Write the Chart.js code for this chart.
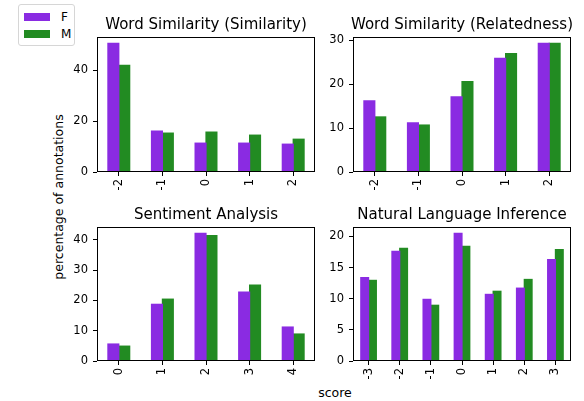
<!DOCTYPE html>
<html><head><meta charset="utf-8">
<script src="https://cdn.jsdelivr.net/npm/chart.js@4.4.1/dist/chart.umd.min.js"></script>
<style>
html,body{margin:0;padding:0;background:#fff;}
body{width:584px;height:401px;position:relative;overflow:hidden;font-family:"DejaVu Sans",sans-serif;color:#000;}
canvas{position:absolute;}
#legend{position:absolute;left:18px;top:4px;width:57px;height:42px;border:1px solid #d6d6d6;border-radius:3px;background:#fff;box-sizing:border-box;}
.lrow{position:absolute;left:5px;height:12px;font-size:12px;line-height:12px;}
.lbox{position:absolute;left:0;top:2px;width:26px;height:8px;}
.ltxt{position:absolute;left:37px;top:0;}
#ylabel{position:absolute;left:58px;top:197px;transform:translate(-50%,-50%) rotate(-90deg);white-space:nowrap;font-size:12.5px;}
#xlabel{position:absolute;left:335px;top:392px;transform:translate(-50%,-50%);white-space:nowrap;font-size:12.5px;}
</style></head><body>
<div id="legend"></div>
<div id="ylabel">percentage of annotations</div>
<div id="xlabel">score</div>
<canvas id="c1"></canvas>
<canvas id="c2"></canvas>
<canvas id="c3"></canvas>
<canvas id="c4"></canvas>
<script>
// ---- data ----
const seriesNames = ['F', 'M'];
const seriesColors = ['#8A2BE2', '#228B22'];

const simTitle = 'Word Similarity (Similarity)';
const simCats = ['-2', '-1', '0', '1', '2'];
const simF = [50.6, 16.1, 11.35, 11.35, 10.95];
const simM = [42.0, 15.3, 15.7, 14.5, 12.9];
const simTicks = [0, 20, 40];

const relTitle = 'Word Similarity (Relatedness)';
const relCats = ['-2', '-1', '0', '1', '2'];
const relF = [16.2, 11.2, 17.1, 25.9, 29.3];
const relM = [12.55, 10.7, 20.6, 27.0, 29.3];
const relTicks = [0, 10, 20, 30];

const senTitle = 'Sentiment Analysis';
const senCats = ['0', '1', '2', '3', '4'];
const senF = [5.6, 18.7, 42.1, 22.7, 11.2];
const senM = [4.9, 20.4, 41.4, 25.0, 8.9];
const senTicks = [0, 10, 20, 30, 40];

const nliTitle = 'Natural Language Inference';
const nliCats = ['-3', '-2', '-1', '0', '1', '2', '3'];
const nliF = [13.4, 17.6, 9.9, 20.5, 10.7, 11.7, 16.3];
const nliM = [12.95, 18.1, 8.95, 18.4, 11.2, 13.1, 17.9];
const nliTicks = [0, 5, 10, 15, 20];

// ---- layout ----
const FONT = 'DejaVu Sans';
const Y_W = 44, X_H = 30, TOP_H = 27, PAD_R = 8;

// legend (HTML, built from series arrays)
const leg = document.getElementById('legend');
seriesNames.forEach((n, i) => {
  const r = document.createElement('div');
  r.className = 'lrow';
  r.style.top = (6 + i * 17) + 'px';
  r.innerHTML = '<div class="lbox" style="background:' + seriesColors[i] + '"></div><div class="ltxt">' + n + '</div>';
  r.style.width = '50px';
  leg.appendChild(r);
});

const framePlugin = {
  id: 'frame',
  afterDraw(chart) {
    const a = chart.chartArea, ctx = chart.ctx;
    ctx.save();
    ctx.strokeStyle = '#000';
    ctx.lineWidth = 1;
    const l = Math.round(a.left) + 0.5, t = Math.round(a.top) + 0.5;
    const r = Math.round(a.right) - 0.5, b = Math.round(a.bottom) - 0.5;
    ctx.strokeRect(l, t, r - l, b - t);
    const txt = chart.options.plugins.axTitle.text;
    ctx.fillStyle = '#000';
    ctx.font = '15px "' + FONT + '"';
    ctx.textAlign = 'center';
    ctx.textBaseline = 'alphabetic';
    ctx.fillText(txt, (a.left + a.right) / 2, a.top - 8);
    ctx.restore();
  }
};

function makeChart(id, box, title, cats, f, m, ticks) {
  const cv = document.getElementById(id);
  const w = (box.r - box.l) + Y_W + PAD_R;
  const h = TOP_H + (box.b - box.t) + X_H;
  cv.width = w; cv.height = h;
  cv.style.left = (box.l - Y_W) + 'px';
  cv.style.top = (box.t - TOP_H) + 'px';
  cv.style.width = w + 'px'; cv.style.height = h + 'px';
  const vmax = Math.max(...f, ...m) * 1.05;
  return new Chart(cv, {
    type: 'bar',
    data: {
      labels: cats,
      datasets: [
        { label: seriesNames[0], data: f, backgroundColor: seriesColors[0], borderWidth: 0, inflateAmount: 0.6 },
        { label: seriesNames[1], data: m, backgroundColor: seriesColors[1], borderWidth: 0, inflateAmount: 0.6 }
      ]
    },
    options: {
      responsive: false,
      animation: false,
      devicePixelRatio: 1,
      layout: { padding: { top: TOP_H, right: PAD_R, left: 0, bottom: 0 } },
      categoryPercentage: 0.5,
      barPercentage: 1.0,
      plugins: {
        legend: { display: false },
        title: { display: false },
        tooltip: { enabled: false },
        axTitle: { text: title }
      },
      scales: {
        x: {
          offset: true,
          border: { display: false },
          grid: { display: true, offset: false, drawOnChartArea: false, drawTicks: true, tickLength: 4, color: '#000', lineWidth: 1 },
          ticks: { autoSkip: false, minRotation: 90, maxRotation: 90, padding: 3, color: '#000', font: { family: FONT, size: 11.5 } },
          afterFit(s) { s.height = X_H; }
        },
        y: {
          min: 0, max: vmax,
          border: { display: false },
          grid: { display: true, drawOnChartArea: false, drawTicks: true, tickLength: 4, color: '#000', lineWidth: 1 },
          ticks: { padding: 5, color: '#000', font: { family: FONT, size: 11.5 } },
          afterBuildTicks(s) { s.ticks = ticks.map(v => ({ value: v })); },
          afterFit(s) { s.width = Y_W; }
        }
      }
    },
    plugins: [framePlugin]
  });
}

makeChart('c1', { l: 97, r: 315, t: 37, b: 172 }, simTitle, simCats, simF, simM, simTicks);
makeChart('c2', { l: 353, r: 571, t: 37, b: 172 }, relTitle, relCats, relF, relM, relTicks);
makeChart('c3', { l: 97, r: 315, t: 227, b: 361 }, senTitle, senCats, senF, senM, senTicks);
makeChart('c4', { l: 353, r: 571, t: 227, b: 361 }, nliTitle, nliCats, nliF, nliM, nliTicks);
</script>
</body></html>
